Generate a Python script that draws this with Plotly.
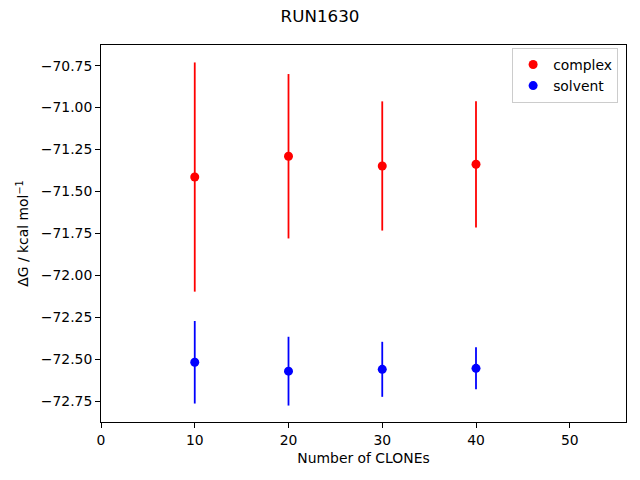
import plotly.graph_objects as go

clones = [10, 20, 30, 40]
complex_dg = [-71.414, -71.290, -71.348, -71.338]
complex_err = [0.683, 0.490, 0.385, 0.376]
solvent_dg = [-72.518, -72.571, -72.560, -72.554]
solvent_err = [0.246, 0.205, 0.164, 0.125]

yticks = [-70.75, -71.00, -71.25, -71.50, -71.75, -72.00, -72.25, -72.50, -72.75]
yticklabels = ["\u221270.75", "\u221271.00", "\u221271.25", "\u221271.50", "\u221271.75",
               "\u221272.00", "\u221272.25", "\u221272.50", "\u221272.75"]
xticks = [0, 10, 20, 30, 40, 50]

font = "DejaVu Sans"
fs = 13.9

fig = go.Figure()
fig.add_trace(go.Scatter(
    x=clones, y=complex_dg, mode="markers", name="complex",
    marker=dict(color="red", size=9),
    error_y=dict(type="data", array=complex_err, color="red", thickness=1.8, width=0),
))
fig.add_trace(go.Scatter(
    x=clones, y=solvent_dg, mode="markers", name="solvent",
    marker=dict(color="blue", size=9),
    error_y=dict(type="data", array=solvent_err, color="blue", thickness=1.8, width=0),
))

fig.update_layout(
    width=640, height=480,
    margin=dict(l=101, r=14, t=45, b=58),
    paper_bgcolor="white", plot_bgcolor="white",
    font=dict(family=font, size=fs, color="black"),
    title=dict(text="RUN1630", x=0.5, xanchor="center", y=0.967, yanchor="middle",
               font=dict(family=font, size=16.7, color="black")),
    showlegend=True,
    legend=dict(x=0.985, y=0.992, xanchor="right", yanchor="top",
                bordercolor="#cccccc", borderwidth=1, bgcolor="white",
                font=dict(family=font, size=fs)),
)
fig.update_xaxes(
    range=[0, 56], tickvals=xticks, ticks="outside", ticklen=5, tickcolor="black",
    showline=True, linecolor="black", linewidth=1, mirror=True, showgrid=False, zeroline=False,
    automargin=False,
    title=dict(text="Number of CLONEs", font=dict(family=font, size=fs), standoff=6),
)
fig.update_yaxes(
    range=[-72.874, -70.627], tickvals=yticks, ticktext=yticklabels, ticks="outside", ticklen=5,
    tickcolor="black", showline=True, linecolor="black", linewidth=1, mirror=True,
    showgrid=False, zeroline=False, automargin=False,
    title=dict(text="\u0394G / kcal mol<sup>\u22121</sup>", font=dict(family=font, size=fs), standoff=8),
)

fig.write_html("out.html", config={"displayModeBar": False},
               post_script="document.body.style.margin='0';")
